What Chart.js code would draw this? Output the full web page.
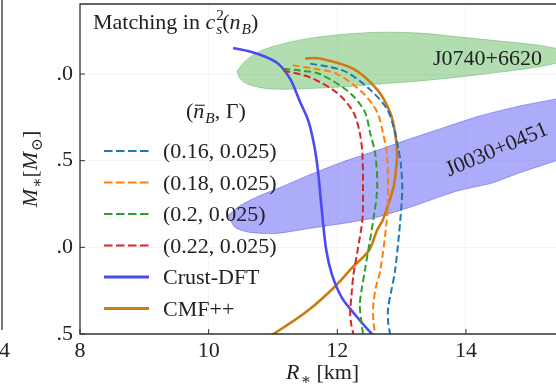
<!DOCTYPE html>
<html>
<head>
<meta charset="utf-8">
<script src="https://cdn.jsdelivr.net/npm/chart.js@4.4.0/dist/chart.umd.min.js"></script>
<style>
    html, body { margin: 0; padding: 0; background: #fff; }
    #wrap { width: 556px; height: 387px; position: relative; }
</style>
</head>
<body>
<div id="wrap"><canvas id="mr"></canvas></div>
<script>
// tick values and the (cropped) labels as they appear
const xTicks = [8, 10, 12, 14];
const yTicks = [0.5, 1.0, 1.5, 2.0];
const yTickLabels = ['.5', '.0', '.5', '.0'];

const seriesLabels = ['(0.16, 0.025)', '(0.18, 0.025)', '(0.2, 0.025)', '(0.22, 0.025)', 'Crust-DFT', 'CMF++'];
const seriesColors = ['#1f77b4', '#ff7f0e', '#2ca02c', '#d62728', '#4b4bf5', '#cc7a14'];
const seriesDashed = [true, true, true, true, false, false];

// radius R [km] and mass M [Msun] per curve
const r016 = [11.58, 11.89, 12.15, 12.51, 12.77, 12.87, 12.95, 12.99, 13.01, 12.98, 12.90, 12.84, 12.79, 12.79, 12.82, 12.85];
const m016 = [2.06, 2.04, 2.01, 1.91, 1.80, 1.70, 1.57, 1.47, 1.34, 1.16, 0.87, 0.75, 0.65, 0.57, 0.50, 0.44];
const r018 = [11.31, 11.65, 12.00, 12.40, 12.62, 12.71, 12.77, 12.79, 12.77, 12.67, 12.60, 12.56, 12.56, 12.59, 12.62];
const m018 = [2.05, 2.03, 2.00, 1.89, 1.78, 1.66, 1.54, 1.34, 1.16, 0.87, 0.77, 0.67, 0.58, 0.50, 0.44];
const r020 = [11.16, 11.42, 11.73, 12.20, 12.43, 12.51, 12.59, 12.62, 12.56, 12.43, 12.38, 12.35, 12.37, 12.40, 12.43];
const m020 = [2.03, 2.02, 2.00, 1.89, 1.78, 1.66, 1.54, 1.34, 1.16, 0.87, 0.76, 0.67, 0.58, 0.50, 0.44];
const r022 = [11.16, 11.58, 12.00, 12.25, 12.35, 12.39, 12.40, 12.39, 12.31, 12.25, 12.22, 12.20, 12.22, 12.25, 12.28];
const m022 = [2.02, 1.98, 1.89, 1.78, 1.66, 1.54, 1.34, 1.16, 0.97, 0.84, 0.72, 0.62, 0.55, 0.50, 0.44];
const rCrust = [10.38, 10.64, 10.88, 11.08, 11.27, 11.42, 11.55, 11.64, 11.70, 11.76, 11.83, 11.92, 12.07, 12.28, 12.54, 12.82];
const mCrust = [2.15, 2.13, 2.10, 2.06, 1.97, 1.84, 1.73, 1.59, 1.44, 1.21, 0.98, 0.84, 0.71, 0.61, 0.50, 0.41];
const rCmf = [11.50, 11.73, 12.25, 12.62, 12.82, 12.90, 12.93, 12.91, 12.87, 12.71, 12.62, 12.49, 12.25, 11.98, 11.56, 11.05, 10.72];
const mCmf = [2.09, 2.09, 2.03, 1.91, 1.78, 1.66, 1.54, 1.44, 1.34, 1.16, 1.10, 0.98, 0.89, 0.78, 0.64, 0.51, 0.44];

const seriesR = [r016, r018, r020, r022, rCrust, rCmf];
const seriesM = [m016, m018, m020, m022, mCrust, mCmf];

// NICER credible regions (outline)
const j0740R = [10.44, 10.57, 10.80, 11.19, 11.58, 12.12, 12.67, 13.29, 13.91, 14.53, 15.00, 15.31, 15.70, 15.40, 15.00, 14.53, 13.91, 13.29, 12.67, 12.04, 11.42, 10.95, 10.64, 10.49, 10.44];
const j0740M = [2.017, 2.075, 2.132, 2.178, 2.207, 2.230, 2.241, 2.236, 2.213, 2.190, 2.172, 2.155, 2.12, 2.063, 2.034, 2.011, 1.983, 1.960, 1.943, 1.925, 1.914, 1.914, 1.937, 1.971, 2.017];
const j0030R = [10.30, 10.49, 10.80, 11.11, 11.58, 12.09, 12.60, 13.13, 13.65, 14.22, 14.84, 15.40, 15.78, 15.78, 15.40, 14.84, 14.38, 13.89, 13.65, 13.12, 12.60, 12.09, 11.56, 11.05, 10.64, 10.41, 10.30];
const j0030M = [1.184, 1.241, 1.299, 1.345, 1.420, 1.494, 1.557, 1.626, 1.690, 1.759, 1.816, 1.856, 1.885, 1.557, 1.500, 1.431, 1.368, 1.328, 1.299, 1.230, 1.172, 1.138, 1.109, 1.080, 1.086, 1.115, 1.184];

const FAM = '"Liberation Serif", "DejaVu Serif", serif';
const FS = 22;
const INK = '#222';
const DASH = [7, 3.5];

const toPts = (xs, ys) => xs.map((x, i) => ({ x: x, y: ys[i] }));

const datasets = seriesLabels.map((label, i) => ({
    label: label,
    data: toPts(seriesR[i], seriesM[i]),
    showLine: true,
    borderColor: seriesColors[i],
    borderWidth: seriesDashed[i] ? 2 : 2.6,
    borderDash: seriesDashed[i] ? DASH : [],
    pointRadius: 0,
    tension: 0.3,
    fill: false,
    order: i
}));
datasets.push({
    label: 'J0740+6620',
    data: toPts(j0740R, j0740M),
    showLine: true,
    borderColor: 'rgba(60,150,60,0.35)',
    borderWidth: 1,
    backgroundColor: 'rgba(60,170,60,0.4)',
    pointRadius: 0,
    tension: 0.3,
    fill: 'shape',
    order: 20
});
datasets.push({
    label: 'J0030+0451',
    data: toPts(j0030R, j0030M),
    showLine: true,
    borderColor: 'rgba(70,70,230,0.45)',
    borderWidth: 1,
    backgroundColor: 'rgba(70,70,245,0.45)',
    pointRadius: 0,
    tension: 0.2,
    fill: 'shape',
    order: 21
});

// draw a run of text pieces: [text, flags] with i=italic, u=sup, d=sub, k=no advance, b=bar
function rich(ctx, parts, x, y, size) {
    let cx = x;
    parts.forEach(([t, f]) => {
        f = f || '';
        const small = f.includes('u') || f.includes('d');
        const s = small ? size * 0.7 : size;
        ctx.font = (f.includes('i') ? 'italic ' : '') + s + 'px ' + FAM;
        let dy = 0;
        if (f.includes('u')) dy = -size * 0.42;
        if (f.includes('d')) dy = size * 0.22;
        ctx.fillText(t, cx, y + dy);
        const w = ctx.measureText(t).width;
        if (f.includes('b')) {
            ctx.save();
            ctx.lineWidth = 1.1;
            ctx.strokeStyle = ctx.fillStyle;
            ctx.beginPath();
            ctx.moveTo(cx + 1.5, y - size * 0.58);
            ctx.lineTo(cx + w + 0.5, y - size * 0.58);
            ctx.stroke();
            ctx.restore();
        }
        if (!f.includes('k')) cx += w + (f.includes('i') && !small ? 1 : 0);
    });
    return cx - x;
}

const decor = {
    id: 'decor',
    afterDraw(chart) {
        const ctx = chart.ctx;
        const a = chart.chartArea;
        const xs = chart.scales.x, ys = chart.scales.y;
        ctx.save();
        ctx.textAlign = 'left';
        ctx.textBaseline = 'alphabetic';

        // frame (right side is cut off in the picture)
        ctx.strokeStyle = '#333';
        ctx.lineWidth = 1.3;
        ctx.beginPath();
        ctx.moveTo(a.right + 1, a.top);
        ctx.lineTo(a.left, a.top);
        ctx.lineTo(a.left, a.bottom);
        ctx.lineTo(a.right + 1, a.bottom);
        ctx.stroke();

        // inward ticks
        ctx.lineWidth = 1;
        ctx.beginPath();
        xTicks.forEach(v => {
            const px = xs.getPixelForValue(v);
            ctx.moveTo(px, a.bottom);
            ctx.lineTo(px, a.bottom - 5);
        });
        yTicks.forEach(v => {
            const py = ys.getPixelForValue(v);
            ctx.moveTo(a.left, py);
            ctx.lineTo(a.left + 5, py);
        });
        ctx.stroke();

        // edge of the neighbouring panel
        ctx.lineWidth = 1.3;
        ctx.beginPath();
        ctx.moveTo(2, 0);
        ctx.lineTo(2, 330);
        ctx.stroke();
        ctx.fillStyle = INK;
        ctx.font = FS + 'px ' + FAM;
        ctx.fillText('4', -1, 357);

        // title
        rich(ctx, [['Matching in '], ['c', 'i'], ['2', 'uk'], ['s', 'di'], ['('], ['n', 'i'], ['B', 'di'], [')']], 93, 29, FS);

        // source labels
        ctx.font = FS + 'px ' + FAM;
        ctx.fillText('J0740+6620', 433, 65);
        ctx.save();
        ctx.translate(497, 150);
        ctx.rotate(-23 * Math.PI / 180);
        ctx.textAlign = 'center';
        ctx.textBaseline = 'middle';
        ctx.fillText('J0030+0451', 0, 0);
        ctx.restore();

        // legend
        rich(ctx, [['('], ['n', 'ib'], ['B', 'di'], [', Γ)']], 186, 118, FS);
        seriesLabels.forEach((label, i) => {
            const y = 151 + i * 31.5;
            ctx.save();
            ctx.strokeStyle = seriesColors[i];
            ctx.lineWidth = seriesDashed[i] ? 2 : 3;
            ctx.setLineDash(seriesDashed[i] ? [8.5, 3.5] : []);
            ctx.beginPath();
            ctx.moveTo(104, y);
            ctx.lineTo(149, y);
            ctx.stroke();
            ctx.restore();
            ctx.font = FS + 'px ' + FAM;
            ctx.fillText(label, 163, y + 7);
        });

        // axis titles
        rich(ctx, [['R', 'i'], ['∗', 'd'], [' [km]']], 286, 379, FS);
        ctx.save();
        ctx.translate(37, 169);
        ctx.rotate(-Math.PI / 2);
        const parts = [['M', 'i'], ['∗', 'd'], ['['], ['M', 'i'], ['⊙', 'd'], [']']];
        const w = rich(ctx, parts, -1000, -1000, FS);
        rich(ctx, parts, -w / 2, 0, FS);
        ctx.restore();

        ctx.restore();
    }
};

new Chart(document.getElementById('mr'), {
    type: 'scatter',
    data: { datasets: datasets },
    plugins: [decor],
    options: {
        responsive: true,
        maintainAspectRatio: false,
        animation: false,
        layout: { padding: { top: 4, right: 0, left: 0, bottom: 0 } },
        plugins: {
            legend: { display: false },
            tooltip: { enabled: false }
        },
        scales: {
            x: {
                type: 'linear',
                min: 8,
                max: 15.4,
                afterBuildTicks: (axis) => { axis.ticks = xTicks.map(v => ({ value: v })); },
                afterFit: (axis) => { axis.height = 53; axis.paddingLeft = 0; axis.paddingRight = 0; },
                grid: { color: '#f4f4f4', drawTicks: false },
                border: { display: false },
                ticks: {
                    padding: 4,
                    color: INK,
                    font: { family: FAM, size: FS }
                }
            },
            y: {
                type: 'linear',
                min: 0.5,
                max: 2.404,
                afterBuildTicks: (axis) => { axis.ticks = yTicks.map(v => ({ value: v })); },
                afterFit: (axis) => { axis.width = 80; axis.paddingTop = 0; axis.paddingBottom = 0; },
                grid: { color: '#f4f4f4', drawTicks: false },
                border: { display: false },
                ticks: {
                    padding: 7,
                    color: INK,
                    font: { family: FAM, size: FS },
                    callback: (v, i) => yTickLabels[i]
                }
            }
        }
    }
});
</script>
</body>
</html>
